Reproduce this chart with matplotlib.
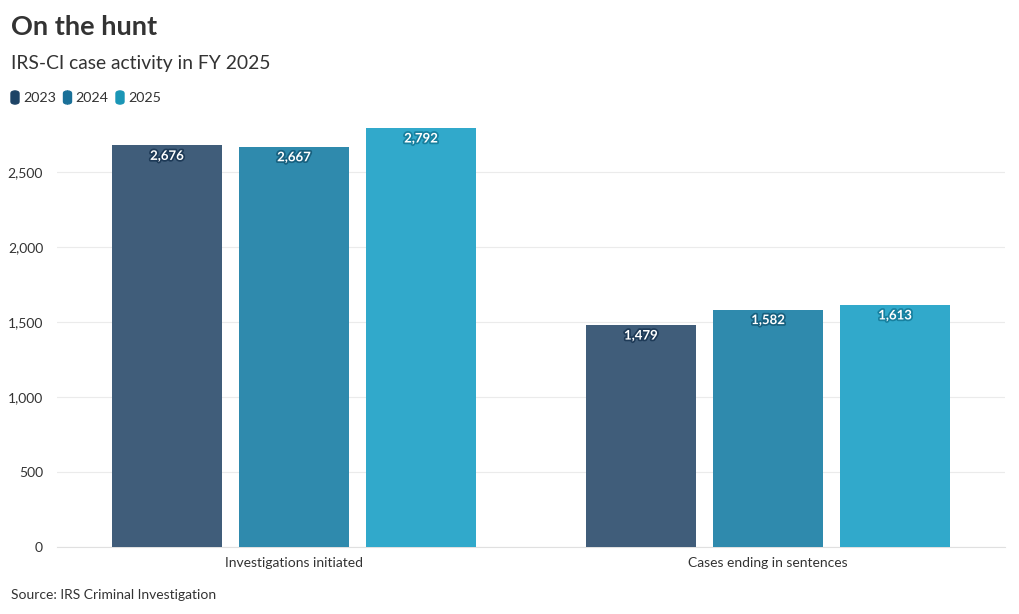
import matplotlib
matplotlib.use("Agg")
import matplotlib.pyplot as plt
import matplotlib.patheffects as pe
from matplotlib.patches import FancyBboxPatch
import numpy as np

plt.rcParams['font.family'] = ['Lato', 'DejaVu Sans']

categories = ["Investigations initiated", "Cases ending in sentences"]
years = ["2023", "2024", "2025"]
values_2023 = [2676, 1479]
values_2024 = [2667, 1582]
values_2025 = [2792, 1613]
series = [values_2023, values_2024, values_2025]

bar_colors = ["#405d7a", "#2f8aad", "#31a9cb"]
legend_colors = ["#1e4466", "#1a7098", "#1a96b6"]
edge_colors = ["#1e3a57", "#17607f", "#17809f"]

fig = plt.figure(figsize=(10.2, 6.14), dpi=100)
ax = fig.add_axes([57 / 1020, 67 / 614, 948 / 1020, (547 - 128) / 614])

x = np.arange(len(categories))
bw = 0.232
step = 0.268
for i, vals in enumerate(series):
    pos = x + (i - 1) * step
    ax.bar(pos, vals, width=bw, color=bar_colors[i], zorder=3)
    for px, v in zip(pos, vals):
        ax.text(px, v - 30, f"{v:,}", ha="center", va="top", fontsize=9.5,
                fontweight="bold", color="white", zorder=4,
                path_effects=[pe.withStroke(linewidth=2.5, foreground=edge_colors[i])])

ax.set_xlim(-0.5, 1.5)
ax.set_ylim(0, 2792)
ax.set_yticks([0, 500, 1000, 1500, 2000, 2500])
ax.set_yticklabels([f"{t:,}" for t in [0, 500, 1000, 1500, 2000, 2500]])
ax.set_xticks(x)
ax.set_xticklabels(categories)
ax.tick_params(axis="both", length=0, labelsize=10, colors="#333333")
ax.tick_params(axis="x", pad=7)
ax.tick_params(axis="y", pad=10)
ax.grid(axis="y", color="#ebebeb", linewidth=0.8, zorder=0)
for s in ["top", "right", "left"]:
    ax.spines[s].set_visible(False)
ax.spines["bottom"].set_color("#e0e0e0")

fig.text(11 / 1020, 1 - 27 / 614, "On the hunt", fontsize=19.5, fontweight="bold",
         color="#333333", va="center", ha="left")
fig.text(11 / 1020, 1 - 63 / 614, "IRS-CI case activity in FY 2025", fontsize=13.9,
         color="#333333", va="center", ha="left")

# legend
lx = 11
for i, yr in enumerate(years):
    patch = FancyBboxPatch((lx / 1020, 1 - 104 / 614), 8 / 1020, 13 / 614,
                           boxstyle="round,pad=0,rounding_size=0.004",
                           transform=fig.transFigure, color=legend_colors[i])
    fig.patches.append(patch)
    fig.text((lx + 12) / 1020, 1 - 98 / 614, yr, fontsize=10.3, color="#333333",
             va="center", ha="left")
    lx += 52.5

fig.text(11 / 1020, 1 - 595 / 614, "Source: IRS Criminal Investigation", fontsize=10,
         color="#333333", va="center", ha="left")

fig.savefig("out.png", dpi=100)
